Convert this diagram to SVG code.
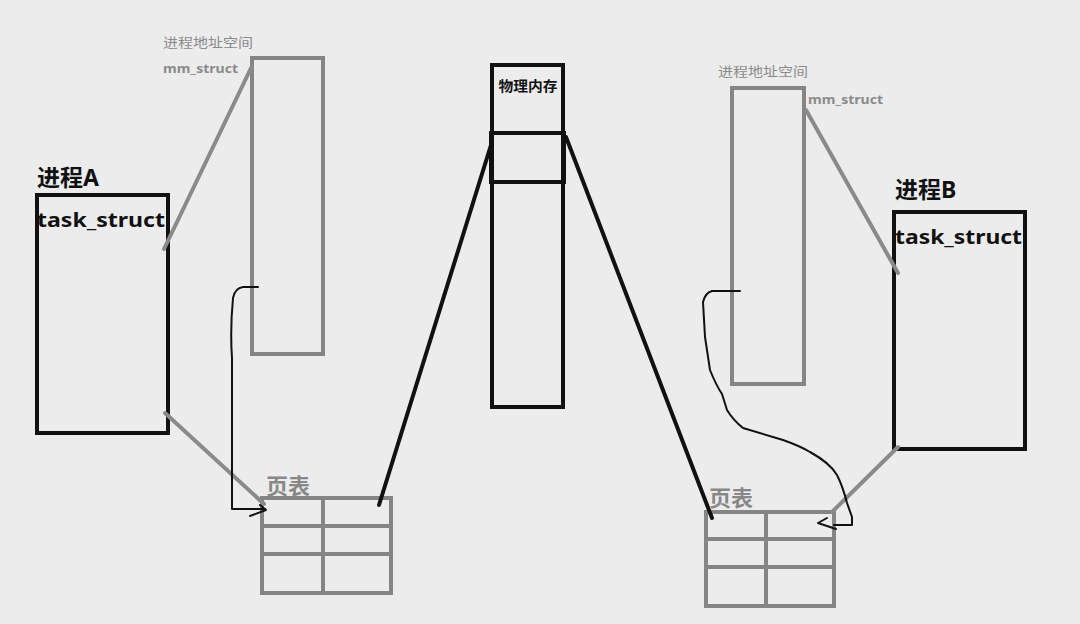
<svg xmlns="http://www.w3.org/2000/svg" width="1080" height="624" viewBox="0 0 1080 624">
<style>
.bg{fill:#ececec}
.blk{fill:none;stroke:#111;stroke-width:4}
.gry{fill:none;stroke:#858585;stroke-width:4}
.gline{stroke:#8a8a8a;stroke-width:4;fill:none;stroke-linecap:round}
.bline{stroke:#111;stroke-width:4;fill:none;stroke-linecap:round}
.pen{stroke:#111;stroke-width:2;fill:none;stroke-linejoin:round;stroke-linecap:round}
.t{font-family:"Noto Sans","Noto Sans CJK SC",sans-serif}
.title{font-size:23px;font-weight:bold;fill:#111}
.ts{font-size:20px;font-weight:bold;fill:#111}
.small{font-size:13px;fill:#8a8a8a}
.mm{font-size:12px;font-weight:bold;fill:#8a8a8a}
.pt{font-size:22px;font-weight:bold;fill:#888}
.phy{font-size:14px;font-weight:bold;fill:#111}
</style>
<rect class="bg" x="0" y="0" width="1080" height="624"/>

<g id="processA">
<text class="t title" x="37" y="186">进程A</text>
<rect class="blk" x="37" y="195" width="131" height="238"/>
<text class="t ts" x="37" y="227" textLength="128" lengthAdjust="spacingAndGlyphs">task_struct</text>
</g>

<g id="addrA">
<text class="t small" x="163" y="47" textLength="90" lengthAdjust="spacingAndGlyphs">进程地址空间</text>
<text class="t mm" x="163" y="73" textLength="75" lengthAdjust="spacingAndGlyphs">mm_struct</text>
<rect class="gry" x="252" y="58" width="71" height="296"/>
</g>

<g id="pagetableA">
<text class="t pt" x="266" y="494">页表</text>
<rect class="gry" x="262" y="498" width="129" height="95"/>
<line class="gry" x1="262" y1="526" x2="391" y2="526"/>
<line class="gry" x1="262" y1="554" x2="391" y2="554"/>
<line class="gry" x1="323" y1="498" x2="323" y2="593"/>
</g>

<g id="physmem">
<rect class="blk" x="492" y="65" width="71" height="342"/>
<rect class="blk" x="491" y="133" width="73" height="49"/>
<text class="t phy" x="528" y="91" text-anchor="middle" textLength="59" lengthAdjust="spacingAndGlyphs">物理内存</text>
</g>

<g id="addrB">
<text class="t small" x="718" y="76" textLength="90" lengthAdjust="spacingAndGlyphs">进程地址空间</text>
<text class="t mm" x="808" y="104" textLength="75" lengthAdjust="spacingAndGlyphs">mm_struct</text>
<rect class="gry" x="732" y="88" width="72" height="296"/>
</g>

<g id="processB">
<text class="t title" x="895" y="198">进程B</text>
<rect class="blk" x="894" y="212" width="131" height="237"/>
<text class="t ts" x="895" y="244" textLength="127" lengthAdjust="spacingAndGlyphs">task_struct</text>
</g>

<g id="pagetableB">
<text class="t pt" x="709" y="506">页表</text>
<rect class="gry" x="706" y="512" width="128" height="94"/>
<line class="gry" x1="706" y1="539" x2="834" y2="539"/>
<line class="gry" x1="706" y1="567" x2="834" y2="567"/>
<line class="gry" x1="766" y1="512" x2="766" y2="606"/>
</g>

<g id="connectors">
<line class="gline" x1="164" y1="249" x2="252" y2="66"/>
<line class="gline" x1="165" y1="413" x2="264" y2="504"/>
<line class="gline" x1="806" y1="110" x2="898" y2="273"/>
<line class="gline" x1="898" y1="447" x2="832" y2="512"/>
<line class="bline" x1="491" y1="145" x2="379" y2="505"/>
<line class="bline" x1="566" y1="137" x2="712" y2="518"/>
<path class="pen" d="M258,287 L243,287 Q235,288 233,298 Q230,330 232,358 L232,509 L265,509"/>
<path class="pen" d="M250,516 L266,510 L260,505"/>
<path class="pen" d="M740,291 L712,291 Q705,293 703,302 L705,337 L710,370 Q716,385 722,394 L727,410 Q733,420 743,428 L783,440 Q800,446 810,452 Q830,463 837,475 Q843,487 847,503 L852,517 L852,525 L834,525"/>
<path class="pen" d="M827,518 L818,523 L836,529"/>
</g>
</svg>
